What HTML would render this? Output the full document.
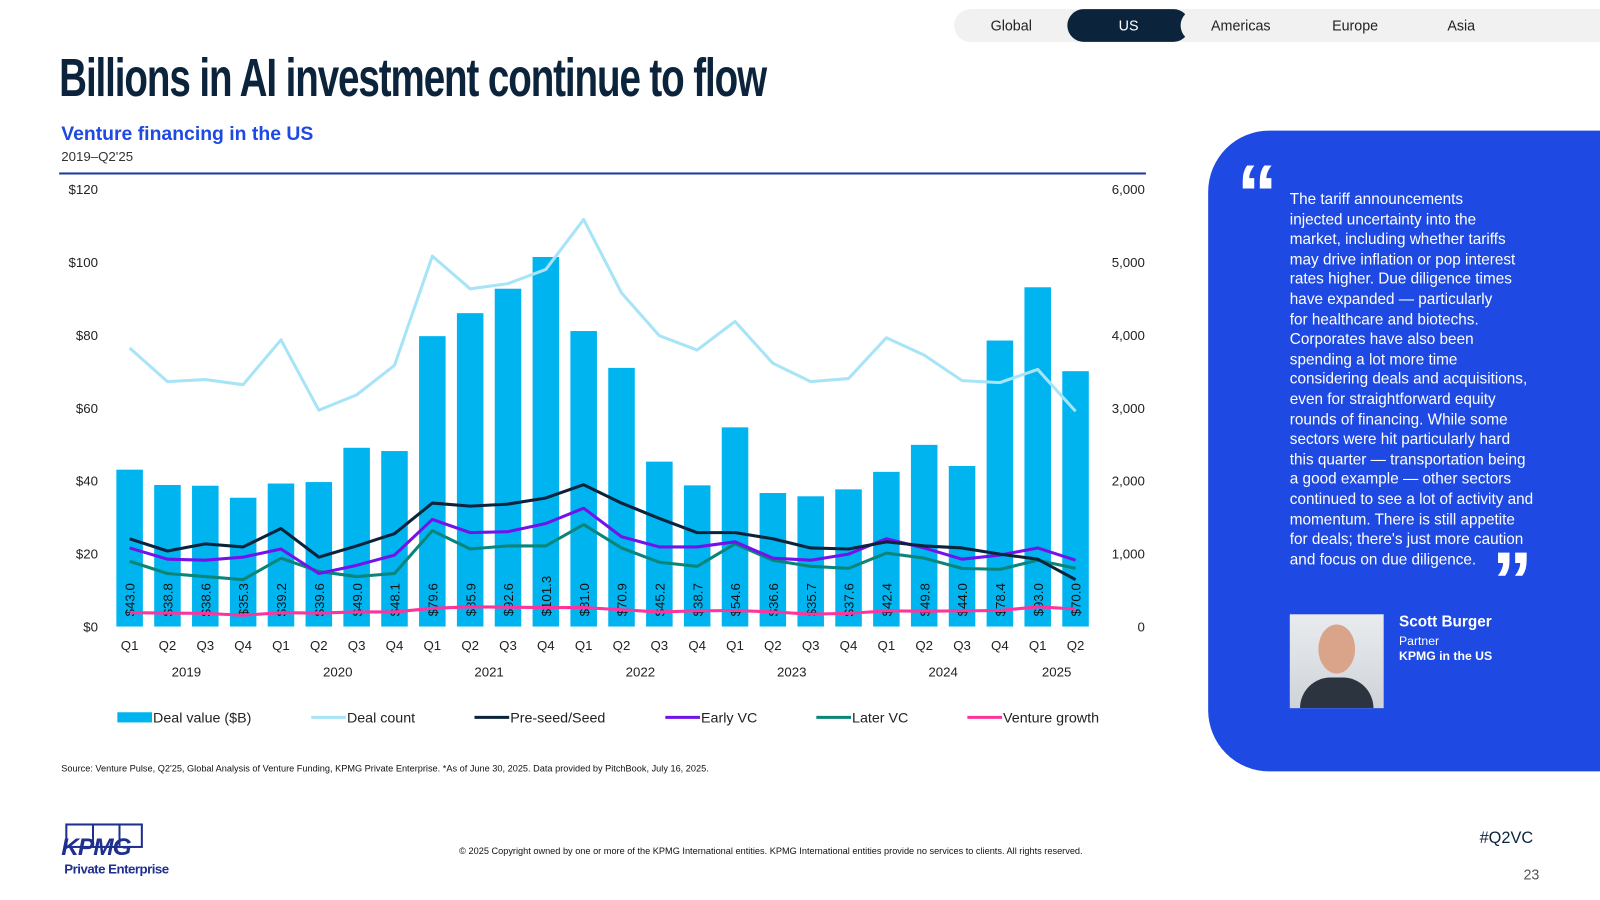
<!DOCTYPE html>
<html><head><meta charset="utf-8">
<style>
body{margin:0;width:1600px;height:900px;background:#fff;font-family:"Liberation Sans",sans-serif;overflow:hidden}
#root{position:relative;width:1568px;height:882px;transform:scale(1.020408);transform-origin:0 0}
.abs{position:absolute}
.tabs{left:935px;top:9px;width:640px;height:32px;background:#f1f1f1;border-radius:16px 0 0 16px}
.tab{position:absolute;top:0;height:32px;line-height:32px;font-size:14px;color:#222;text-align:center}
.title{left:58px;top:46px;font-weight:bold;font-size:53px;color:#0c233c;letter-spacing:-1.5px;white-space:nowrap;transform:scaleX(0.713);transform-origin:0 0}
.panel{left:1184px;top:128px;width:400px;height:628px;background:#1e49e2;border-radius:60px 0 0 60px}
.quote{left:1264px;top:186px;color:#fff;font-size:15px;line-height:19.6px;white-space:nowrap}
</style></head><body><div id="root">
<div class="abs tabs">
 <div class="tab" style="left:0;width:112px">Global</div>
 <div class="tab" style="left:111px;width:120px;background:#0c233c;color:#fff;border-radius:16px">US</div>
 <div class="tab" style="left:222px;width:118px;background:#f1f1f1;border-radius:16px 0 0 16px">Americas</div>
 <div class="tab" style="left:334px;width:118px">Europe</div>
 <div class="tab" style="left:442px;width:110px">Asia</div>
</div>
<div class="abs title">Billions in AI investment continue to flow</div>
<div class="abs" style="left:60px;top:121px;font-size:19px;font-weight:bold;color:#1e49e2">Venture financing in the US</div>
<div class="abs" style="left:60px;top:146px;font-size:13px;color:#333">2019–Q2'25</div>
<div class="abs" style="left:58px;top:169px;width:1065px;height:2px;background:#1e3a9e"></div>
<svg id="chart" class="abs" style="left:0;top:0" width="1180" height="740"></svg>
<div class="abs" style="left:60px;top:748px;font-size:9px;color:#111">Source: Venture Pulse, Q2'25, Global Analysis of Venture Funding, KPMG Private Enterprise. *As of June 30, 2025. Data provided by PitchBook, July 16, 2025.</div>
<div class="abs panel"></div>
<div class="abs" style="left:1212px;top:150px;font-size:80px;font-weight:bold;color:#fff;line-height:80px">“</div>
<div class="abs quote">The tariff announcements<br>injected uncertainty into the<br>market, including whether tariffs<br>may drive inflation or pop interest<br>rates higher. Due diligence times<br>have expanded — particularly<br>for healthcare and biotechs.<br>Corporates have also been<br>spending a lot more time<br>considering deals and acquisitions,<br>even for straightforward equity<br>rounds of financing. While some<br>sectors were hit particularly hard<br>this quarter — transportation being<br>a good example — other sectors<br>continued to see a lot of activity and<br>momentum. There is still appetite<br>for deals; there's just more caution<br>and focus on due diligence.</div>
<div class="abs" style="left:1462px;top:530px;font-size:80px;font-weight:bold;color:#fff;line-height:80px">”</div>
<div class="abs" style="left:1264px;top:602px;width:92px;height:92px;background:linear-gradient(#e9ecef,#cfd3d8);overflow:hidden">
 <div style="position:absolute;left:28px;top:10px;width:36px;height:48px;border-radius:50%;background:#d9a48a"></div>
 <div style="position:absolute;left:10px;top:62px;width:72px;height:30px;border-radius:30px 30px 0 0;background:#2c3440"></div>
</div>
<div class="abs" style="left:1371px;top:601px;color:#fff;font-size:15px;font-weight:bold">Scott Burger</div>
<div class="abs" style="left:1371px;top:621px;color:#fff;font-size:12px">Partner</div>
<div class="abs" style="left:1371px;top:636px;color:#fff;font-size:12px;font-weight:bold">KPMG in the US</div>
<div class="abs" style="left:60px;top:807px">
 <div style="position:absolute;left:4px;top:0;width:76px;height:24px;border:2px solid #1e2f8f;box-sizing:border-box;background:linear-gradient(90deg,transparent 24px,#1e2f8f 24px,#1e2f8f 26px,transparent 26px,transparent 50px,#1e2f8f 50px,#1e2f8f 52px,transparent 52px)"></div>
 <div style="position:absolute;left:0;top:10px;font-size:24px;font-weight:bold;font-style:italic;color:#1e2f8f;letter-spacing:-1px">KPMG</div>
 <div style="position:absolute;left:3px;top:37px;font-size:13px;font-weight:bold;color:#1e2f8f;white-space:nowrap;letter-spacing:-0.5px">Private Enterprise</div>
</div>
<div class="abs" style="left:450px;top:829px;font-size:9px;color:#111;white-space:nowrap">© 2025 Copyright owned by one or more of the KPMG International entities. KPMG International entities provide no services to clients. All rights reserved.</div>
<div class="abs" style="left:1450px;top:813px;font-size:16px;color:#0c233c">#Q2VC</div>
<div class="abs" style="left:1493px;top:849px;font-size:14px;color:#555">23</div>
</div>
<script>
const quarters=["Q1","Q2","Q3","Q4","Q1","Q2","Q3","Q4","Q1","Q2","Q3","Q4","Q1","Q2","Q3","Q4","Q1","Q2","Q3","Q4","Q1","Q2","Q3","Q4","Q1","Q2"];
const years=["2019","2020","2021","2022","2023","2024","2025"];
const dealValue=[43.0,38.8,38.6,35.3,39.2,39.6,49.0,48.1,79.6,85.9,92.6,101.3,81.0,70.9,45.2,38.7,54.6,36.6,35.7,37.6,42.4,49.8,44.0,78.4,93.0,70.0];
const dealCount=[3818,3357,3385,3315,3930,2965,3175,3580,5077,4629,4700,4895,5580,4573,3986,3790,4182,3608,3357,3399,3958,3720,3370,3343,3524,2951];
const preSeed=[1202,1035,1133,1091,1343,951,1105,1273,1692,1650,1678,1762,1944,1692,1482,1287,1287,1203,1077,1063,1161,1105,1077,993,923,643];
const earlyVC=[1077,923,909,951,1063,727,839,979,1468,1287,1300,1412,1622,1231,1091,1091,1161,937,909,993,1203,1077,923,979,1077,909];
const laterVC=[895,727,685,643,937,755,685,727,1315,1063,1105,1105,1398,1077,881,825,1133,909,825,797,1007,937,797,783,909,797];
const ventureGrowth=[190,185,180,155,190,185,200,200,250,270,265,260,260,230,200,215,220,200,170,180,215,210,215,220,270,240];
const leftTicks=["$0","$20","$40","$60","$80","$100","$120"];
const rightTicks=["0","1,000","2,000","3,000","4,000","5,000","6,000"];
const svg=document.getElementById('chart');const NS="http://www.w3.org/2000/svg";
const N=quarters.length,X0=108.5,SLOT=37.08,Y0=614,H=429;
const xc=i=>X0+SLOT*(i+0.5);
const yL=v=>Y0-v/120*H;
const yR=v=>Y0-v/6000*H;
function mk(t,a,txt){const e=document.createElementNS(NS,t);for(const k in a)e.setAttribute(k,a[k]);if(txt!=null)e.textContent=txt;svg.appendChild(e);return e;}
leftTicks.forEach((t,i)=>{const e=mk('text',{x:96,y:yL(i*20)+5,'text-anchor':'end','font-size':13,fill:'#222'},t);

});
rightTicks.forEach((t,i)=>{const e=mk('text',{x:1122,y:yR(i*1000)+5,'text-anchor':'end','font-size':13,fill:'#222'},t);

});
dealValue.forEach((v,i)=>{const r=mk('rect',{x:xc(i)-13,y:yL(v),width:26,height:yL(0)-yL(v),fill:'#00b4f0'});

});
function line(arr,col,w,name){const p=mk('polyline',{points:arr.map((v,i)=>xc(i)+','+yR(v)).join(' '),fill:'none',stroke:col,'stroke-width':w,'stroke-linejoin':'round'});

}
line(dealCount,'#a8e4f8',3,'deal-count-line');
line(laterVC,'#098579',3,'later-vc-line');
line(earlyVC,'#7213ea',3,'early-vc-line');
line(preSeed,'#0c233c',3,'pre-seed-line');
dealValue.forEach((v,i)=>{const t=mk('text',{x:0,y:0,'font-size':13,fill:'#111',transform:`translate(${xc(i)+5},604) rotate(-90)`},'$'+v.toFixed(1));

});
line(ventureGrowth,'#fd349c',3,'venture-growth-line');
quarters.forEach((q,i)=>{const t=mk('text',{x:xc(i),y:637,'text-anchor':'middle','font-size':13,fill:'#222'},q);

});
years.forEach((y,j)=>{const a=j*4,b=Math.min(j*4+3,N-1);const t=mk('text',{x:(xc(a)+xc(b))/2,y:663,'text-anchor':'middle','font-size':13,fill:'#222'},y);

});
const legNames=["Deal value ($B)","Deal count","Pre-seed/Seed","Early VC","Later VC","Venture growth"];
const legCols=["#00b4f0","#a8e4f8","#0c233c","#7213ea","#098579","#fd349c"];
const legX=[115,305,465,652,800,948];
legNames.forEach((n,i)=>{
 if(i===0){mk('rect',{x:legX[i],y:698,width:34,height:10,fill:legCols[i]});}
 else mk('line',{x1:legX[i],y1:703,x2:legX[i]+34,y2:703,stroke:legCols[i],'stroke-width':3});
 const t=mk('text',{x:legX[i]+35,y:708,'font-size':14,fill:'#222'},n);
 
 });
</script>
</body></html>
